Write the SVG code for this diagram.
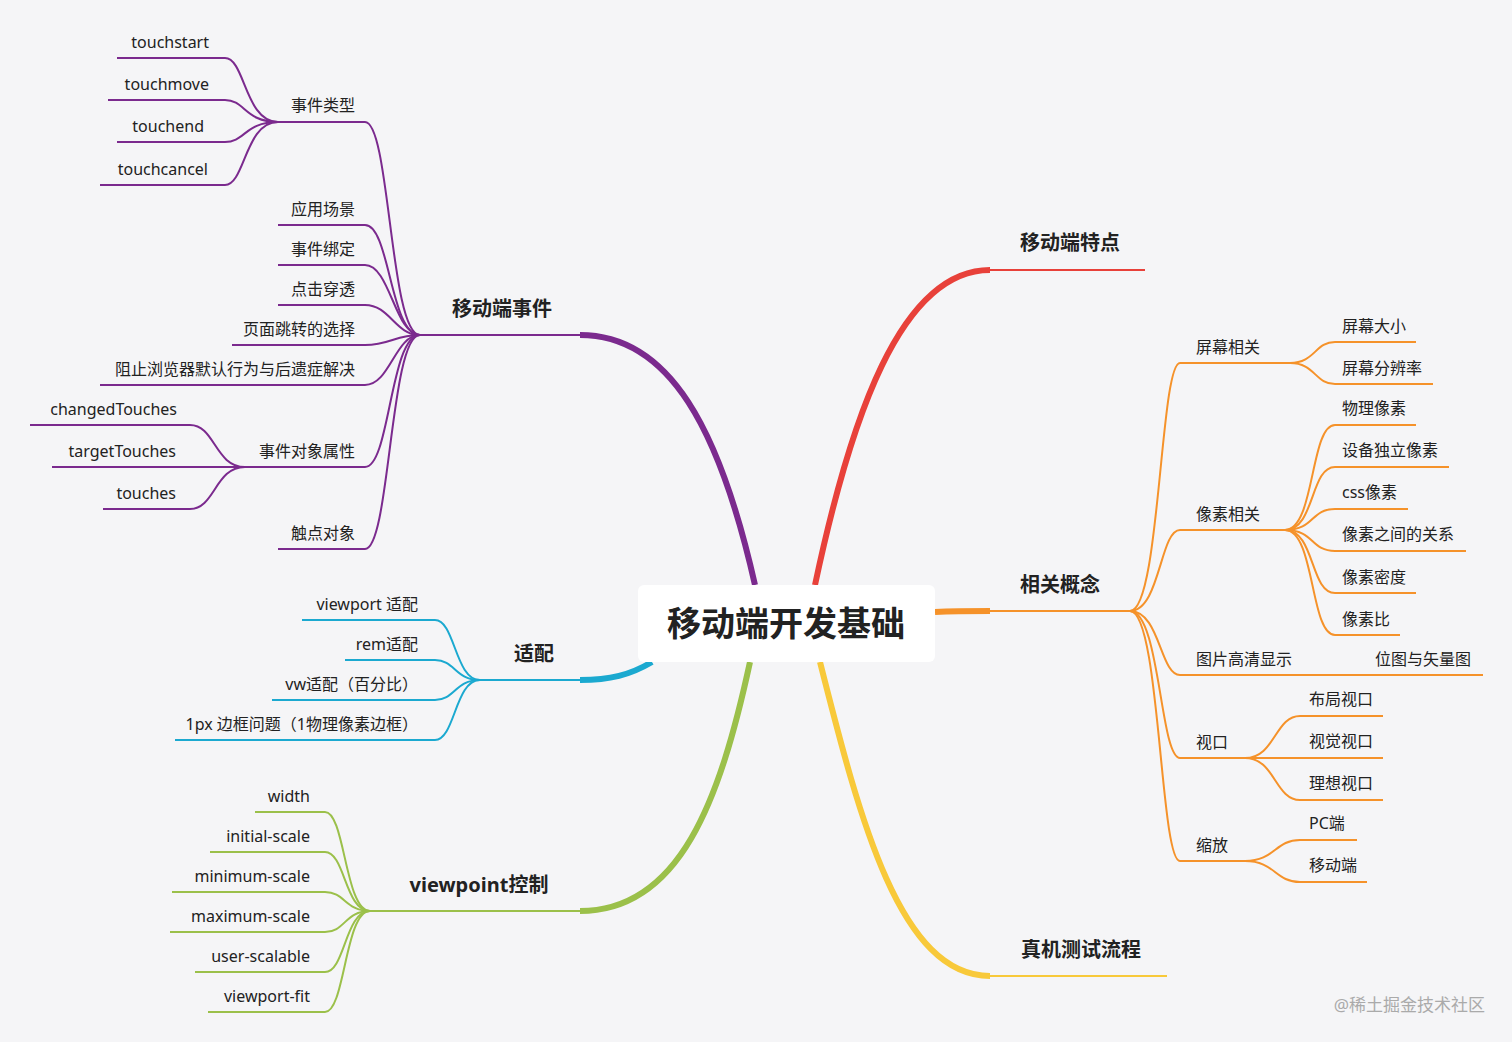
<svg xmlns="http://www.w3.org/2000/svg" width="1512" height="1042" viewBox="0 0 1512 1042">
<style>
text{font-family:"Noto Sans","Noto Sans CJK SC",sans-serif;font-size:16px;fill:#222}
.m{font-size:20px;font-weight:bold}
.c{font-size:34px;font-weight:bold}
path{fill:none;stroke-width:2}
.p{stroke:#7b2a8e}.b{stroke:#1ba9d0}.g{stroke:#9bc04a}.r{stroke:#e8413a}.o{stroke:#f5922a}.y{stroke:#f8c93a}
.t{stroke-width:6}
</style>
<rect width="1512" height="1042" fill="#f5f5f7"/>
<g id="connectors">
<path class="p t" d="M755 585 C720 430 670 335 580 335"/>
<path class="p" d="M580 335 H420"/>
<path class="b t" d="M652 662 C630 675 610 680 580 680"/>
<path class="b" d="M580 680 H480"/>
<path class="g t" d="M750 662 C720 800 680 911 580 911"/>
<path class="g" d="M580 911 H370"/>
<path class="r t" d="M815 585 C850 420 900 270 990 270"/>
<path class="r" d="M990 270 H1145"/>
<path class="o t" d="M935 612 C955 611 970 611 990 611"/>
<path class="o" d="M990 611 H1130"/>
<path class="y t" d="M820 662 C860 820 900 976 990 976"/>
<path class="y" d="M990 976 H1167"/>
<!-- 移动端事件 children -->
<g class="p">
<path d="M420 335 C390 335 390 122 365 122 H278"/>
<path d="M420 335 C390 335 390 225 365 225 H278"/>
<path d="M420 335 C395 335 390 265 365 265 H278"/>
<path d="M420 335 C395 335 390 305 365 305 H278"/>
<path d="M420 335 C395 335 390 345 365 345 H232"/>
<path d="M420 335 C395 335 390 385 365 385 H100"/>
<path d="M420 335 C390 335 390 467 365 467 H245"/>
<path d="M420 335 C390 335 390 549 365 549 H278"/>
<path d="M278 122 C245 122 245 58 225 58 H117"/>
<path d="M278 122 C245 122 245 100 225 100 H108"/>
<path d="M278 122 C245 122 245 142 225 142 H117"/>
<path d="M278 122 C245 122 245 185 225 185 H100"/>
<path d="M245 467 C215 467 215 425 190 425 H30"/>
<path d="M245 467 H52"/>
<path d="M245 467 C215 467 215 509 190 509 H103"/>
</g>
<g class="b">
<path d="M480 680 C455 680 455 620 435 620 H302"/>
<path d="M480 680 C455 680 455 660 435 660 H345"/>
<path d="M480 680 C455 680 455 700 435 700 H272"/>
<path d="M480 680 C455 680 455 740 435 740 H175"/>
</g>
<g class="g">
<path d="M370 911 C345 911 345 812 325 812 H255"/>
<path d="M370 911 C345 911 345 852 325 852 H210"/>
<path d="M370 911 C345 911 345 892 325 892 H172"/>
<path d="M370 911 C345 911 345 932 325 932 H170"/>
<path d="M370 911 C345 911 345 972 325 972 H195"/>
<path d="M370 911 C345 911 345 1012 325 1012 H208"/>
</g>
<g class="o">
<path d="M1130 611 C1160 611 1160 363 1180 363 H1290"/>
<path d="M1130 611 C1160 611 1160 530 1180 530 H1285"/>
<path d="M1130 611 C1160 611 1160 675 1180 675 H1483"/>
<path d="M1130 611 C1160 611 1160 758 1180 758 H1245"/>
<path d="M1130 611 C1160 611 1160 861 1180 861 H1245"/>
<path d="M1290 363 C1315 363 1315 342 1335 342 H1416"/>
<path d="M1290 363 C1315 363 1315 384 1335 384 H1433"/>
<path d="M1285 530 C1315 530 1310 425 1335 425 H1416"/>
<path d="M1285 530 C1315 530 1310 467 1335 467 H1449"/>
<path d="M1285 530 C1315 530 1310 509 1335 509 H1408"/>
<path d="M1285 530 C1315 530 1310 551 1335 551 H1466"/>
<path d="M1285 530 C1315 530 1310 593 1335 593 H1416"/>
<path d="M1285 530 C1315 530 1310 635 1335 635 H1400"/>
<path d="M1245 758 C1275 758 1275 716 1300 716 H1383"/>
<path d="M1245 758 H1383"/>
<path d="M1245 758 C1275 758 1275 800 1300 800 H1383"/>
<path d="M1245 861 C1275 861 1275 840 1300 840 H1357"/>
<path d="M1245 861 C1275 861 1275 882 1300 882 H1367"/>
</g>
</g>
<g id="center"><rect x="638" y="585" width="297" height="77" rx="6" fill="#fff"/><text class="c" x="786" y="636" text-anchor="middle">移动端开发基础</text></g>
<g id="main">
<text class="m" x="502" y="316" text-anchor="middle">移动端事件</text>
<text class="m" x="534" y="661" text-anchor="middle">适配</text>
<text class="m" x="479" y="892" text-anchor="middle">viewpoint控制</text>
<text class="m" x="1070" y="250" text-anchor="middle">移动端特点</text>
<text class="m" x="1060" y="592" text-anchor="middle">相关概念</text>
<text class="m" x="1081" y="957" text-anchor="middle">真机测试流程</text>
</g>
<g id="left" text-anchor="end">
<text x="355" y="111" text-anchor="end">事件类型</text>
<text x="355" y="215" text-anchor="end">应用场景</text>
<text x="355" y="255" text-anchor="end">事件绑定</text>
<text x="355" y="295" text-anchor="end">点击穿透</text>
<text x="355" y="335" text-anchor="end">页面跳转的选择</text>
<text x="355" y="375" text-anchor="end">阻止浏览器默认行为与后遗症解决</text>
<text x="355" y="457" text-anchor="end">事件对象属性</text>
<text x="355" y="539" text-anchor="end">触点对象</text>
<text x="209" y="48" text-anchor="end">touchstart</text>
<text x="209" y="90" text-anchor="end">touchmove</text>
<text x="204" y="132" text-anchor="end">touchend</text>
<text x="208" y="175" text-anchor="end">touchcancel</text>
<text x="177" y="415" text-anchor="end">changedTouches</text>
<text x="176" y="457" text-anchor="end">targetTouches</text>
<text x="176" y="499" text-anchor="end">touches</text>
<text x="418" y="610" text-anchor="end">viewport 适配</text>
<text x="418" y="650" text-anchor="end">rem适配</text>
<text x="418" y="690" text-anchor="end">vw适配（百分比）</text>
<text x="418" y="730" text-anchor="end">1px 边框问题（1物理像素边框）</text>
<text x="310" y="802" text-anchor="end">width</text>
<text x="310" y="842" text-anchor="end">initial-scale</text>
<text x="310" y="882" text-anchor="end">minimum-scale</text>
<text x="310" y="922" text-anchor="end">maximum-scale</text>
<text x="310" y="962" text-anchor="end">user-scalable</text>
<text x="310" y="1002" text-anchor="end">viewport-fit</text>
</g>
<g id="right">
<text x="1196" y="353">屏幕相关</text>
<text x="1196" y="520">像素相关</text>
<text x="1196" y="665">图片高清显示</text>
<text x="1375" y="665">位图与矢量图</text>
<text x="1196" y="748">视口</text>
<text x="1196" y="851">缩放</text>
<text x="1342" y="332">屏幕大小</text>
<text x="1342" y="374">屏幕分辨率</text>
<text x="1342" y="414">物理像素</text>
<text x="1342" y="456">设备独立像素</text>
<text x="1342" y="498">css像素</text>
<text x="1342" y="540">像素之间的关系</text>
<text x="1342" y="583">像素密度</text>
<text x="1342" y="625">像素比</text>
<text x="1309" y="705">布局视口</text>
<text x="1309" y="747">视觉视口</text>
<text x="1309" y="789">理想视口</text>
<text x="1309" y="829">PC端</text>
<text x="1309" y="871">移动端</text>
</g>
<text x="1485" y="1011" text-anchor="end" style="fill:#aaa;font-size:17px">@稀土掘金技术社区</text>
</svg>
